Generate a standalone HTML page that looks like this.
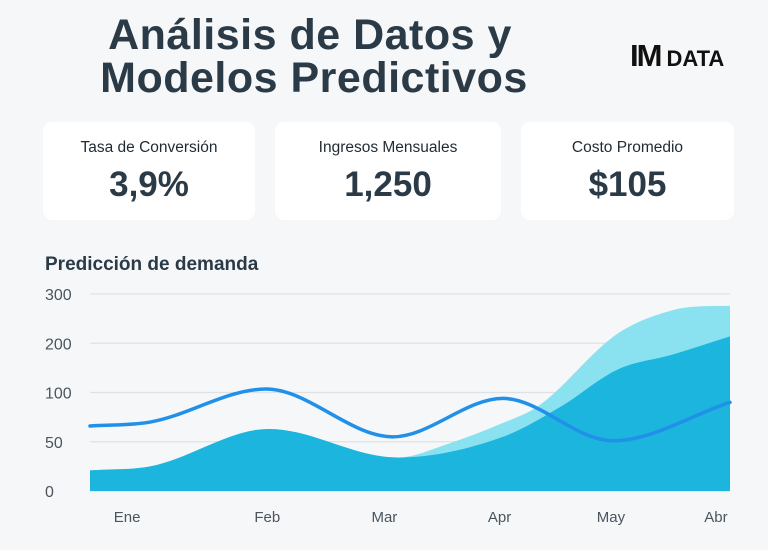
<!DOCTYPE html>
<html><head><meta charset="utf-8"><style>
body{margin:0;width:768px;height:550px;background:#f6f7f8;font-family:"Liberation Sans",sans-serif;color:#2b3a47;position:relative;overflow:hidden}
.t{position:absolute;left:0;width:620px;text-align:center;font-size:43px;font-weight:bold;line-height:42px;letter-spacing:0.5px}
.card{position:absolute;top:122px;height:98px;background:#fff;border-radius:9px;text-align:center}
.card .l{font-size:15.5px;margin-top:17px;color:#1f2a33}
.card .v{font-size:35px;font-weight:bold;margin-top:8px}
</style></head><body>
<div class="t" style="top:14px;left:0">Análisis de Datos y</div>
<div class="t" style="top:57px;left:4px">Modelos Predictivos</div>
<div style="position:absolute;left:630px;top:38px;font-weight:bold;color:#111;white-space:nowrap"><span style="font-size:31px;letter-spacing:-2px">IM</span><span style="font-size:22px;margin-left:6px">DATA</span></div>
<div class="card" style="left:43px;width:212px"><div class="l">Tasa de Conversión</div><div class="v">3,9%</div></div>
<div class="card" style="left:275px;width:226px"><div class="l">Ingresos Mensuales</div><div class="v">1,250</div></div>
<div class="card" style="left:521px;width:213px"><div class="l">Costo Promedio</div><div class="v">$105</div></div>
<div style="position:absolute;left:45px;top:254px;font-size:19px;font-weight:bold">Predicción de demanda</div>
<svg id="c" width="768" height="550" style="position:absolute;left:0;top:0"></svg>
<script>
const yTicks=[0,50,100,200,300];
const months=["Ene","Feb","Mar","Apr","May","Abr"];
const monthPos=[5.8,27.7,46,64,81.4,97.8];
const lineT=[0,9.4,27.5,47.3,64.5,81.7,100];
const lineV=[66,70,107,55,94,51,90];
const darkT=[0,9.4,28,48,64.5,73.4,82.5,91,100];
const darkV=[21,25,63,34,55,85,147,177,214];
const lightT=[0,9.4,28,48,56,64.5,70,82.5,91,95.3,100];
const lightV=[21,25,63,34,48,69,86,220,267,275,276];
const X0=90,X1=730,Y0=491,STEP=49.25;
function xs(t){return X0+(X1-X0)*t/100}
function ys(v){for(let i=0;i<yTicks.length-1;i++){if(v<=yTicks[i+1]||i==yTicks.length-2){return Y0-STEP*(i+(v-yTicks[i])/(yTicks[i+1]-yTicks[i]));}}}
function mono(P){const n=P.length,d=[],m=[];for(let i=0;i<n-1;i++)d.push((P[i+1][1]-P[i][1])/(P[i+1][0]-P[i][0]));m[0]=d[0];m[n-1]=d[n-2];for(let i=1;i<n-1;i++)m[i]=d[i-1]*d[i]<=0?0:(d[i-1]+d[i])/2;
for(let i=0;i<n-1;i++){if(d[i]==0){m[i]=m[i+1]=0;continue}const a=m[i]/d[i],b=m[i+1]/d[i],s=a*a+b*b;if(s>9){const k=3/Math.sqrt(s);m[i]=k*a*d[i];m[i+1]=k*b*d[i];}}
let s="M"+P[0][0]+","+P[0][1];for(let i=0;i<n-1;i++){const h=(P[i+1][0]-P[i][0])/3;s+=` C${P[i][0]+h},${P[i][1]+m[i]*h} ${P[i+1][0]-h},${P[i+1][1]-m[i+1]*h} ${P[i+1][0]},${P[i+1][1]}`}return s}
const svg=document.getElementById('c'),NS="http://www.w3.org/2000/svg";
function el(t,a){const e=document.createElementNS(NS,t);for(const k in a)e.setAttribute(k,a[k]);svg.appendChild(e);return e}
yTicks.forEach(v=>{const y=ys(v);
const g=el('line',{x1:X0,x2:X1,y1:y,y2:y,stroke:'#dfe2e5','stroke-width':1.2});


const t=el('text',{x:45,y:y+6,'font-size':16,fill:'#4a5560','font-family':'Liberation Sans, sans-serif'});t.textContent=v;

});
function area(T,V,fill,name){const P=T.map((t,i)=>[xs(t),ys(V[i])]);const a=el('path',{d:mono(P)+` L${X1},${Y0} L${X0},${Y0} Z`,fill:fill});

}
area(lightT,lightV,'#8ae1ef','forecast-area');
area(darkT,darkV,'#1cb5de','actual-area');
const lp=el('path',{d:mono(lineT.map((t,i)=>[xs(t),ys(lineV[i])])),fill:'none',stroke:'#2190e8','stroke-width':3.5,'stroke-linecap':'round'});


months.forEach((m,i)=>{const t=el('text',{x:xs(monthPos[i]),y:522,'text-anchor':'middle','font-size':15,fill:'#4a5560','font-family':'Liberation Sans, sans-serif'});t.textContent=m;

});
</script>
</body></html>
